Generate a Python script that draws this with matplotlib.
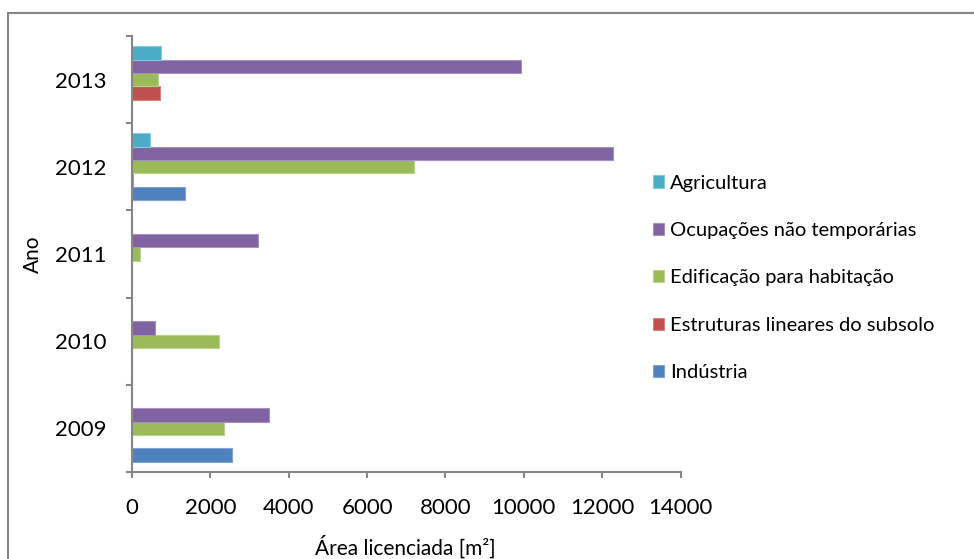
import numpy as np
import matplotlib.pyplot as plt
from matplotlib.patches import Rectangle

plt.rcParams['font.family'] = ['Lato', 'DejaVu Sans']

years = ['2009', '2010', '2011', '2012', '2013']

# licensed area per year [m2], one list per use type
industria = [2560, 0, 0, 1365, 0]
estruturas = [0, 0, 0, 25, 705]
edificacao = [2340, 2215, 195, 7190, 675]
ocupacoes = [3500, 590, 3210, 12270, 9930]
agricultura = [0, 0, 0, 450, 740]

seriesNames = ['Indústria', 'Estruturas lineares do subsolo', 'Edificação para habitação',
               'Ocupações não temporárias', 'Agricultura']
seriesValues = [industria, estruturas, edificacao, ocupacoes, agricultura]
seriesColors = ['#4F81BD', '#C0504D', '#9BBB59', '#8064A2', '#4BACC6']
edgeColors = ['#7FA3D3', '#D68482', '#B9D38A', '#A690C0', '#85CAD9']

axisColor = '#868686'

fig = plt.figure(figsize=(9.74, 5.59), dpi=100)
ax = fig.add_axes([132 / 974, 1 - 472 / 559, 548.5 / 974, 436 / 559])

barHeight = 0.153
yPos = np.arange(len(years))

handles = []
for i in range(len(seriesNames)):
    offset = -0.306 + i * barHeight
    h = ax.barh(yPos + offset, seriesValues[i], height=barHeight, color=seriesColors[i],
                edgecolor=edgeColors[i], linewidth=0.8, label=seriesNames[i])
    handles.append(h)

ax.set_xlim(0, 14000)
ax.set_ylim(-0.5, 4.5)
ax.set_xticks(np.arange(0, 14001, 2000))

# category boundaries carry the tick marks, year labels sit in between
ax.set_yticks(np.arange(-0.5, 4.6, 1.0))
ax.set_yticklabels([])
ax.set_yticks(yPos, minor=True)
ax.set_yticklabels(years, minor=True)
ax.tick_params(axis='y', which='minor', length=0, pad=18, labelsize=16)
ax.tick_params(axis='y', which='major', length=4.5, width=1.5, color=axisColor, direction='out')
ax.tick_params(axis='x', length=4.5, width=1.5, color=axisColor, direction='out', pad=14, labelsize=16)

for side in ['top', 'right']:
    ax.spines[side].set_visible(False)
for side in ['left', 'bottom']:
    ax.spines[side].set_color(axisColor)
    ax.spines[side].set_linewidth(1.5)

fig.text(33 / 974, 1 - 254 / 559, 'Ano', rotation=90, ha='center', va='center', fontsize=15)
fig.text(405 / 974, 1 - 547 / 559, 'Área licenciada [m²]', ha='center', va='center', fontsize=15)

leg = fig.legend(handles[::-1], seriesNames[::-1], loc='center left',
                 bbox_to_anchor=(653 / 974, 1 - 278 / 559), frameon=False, fontsize=14.5,
                 handlelength=0.55, handleheight=0.55, handletextpad=0.3, labelspacing=1.51,
                 borderaxespad=0, borderpad=0)

# outer chart frame
fig.add_artist(Rectangle((7.5 / 974, -0.1), 1.1, 1 - 13 / 559 + 0.1, transform=fig.transFigure,
                         fill=False, edgecolor=axisColor, linewidth=1.5))

fig.savefig('out.png', dpi=100)
